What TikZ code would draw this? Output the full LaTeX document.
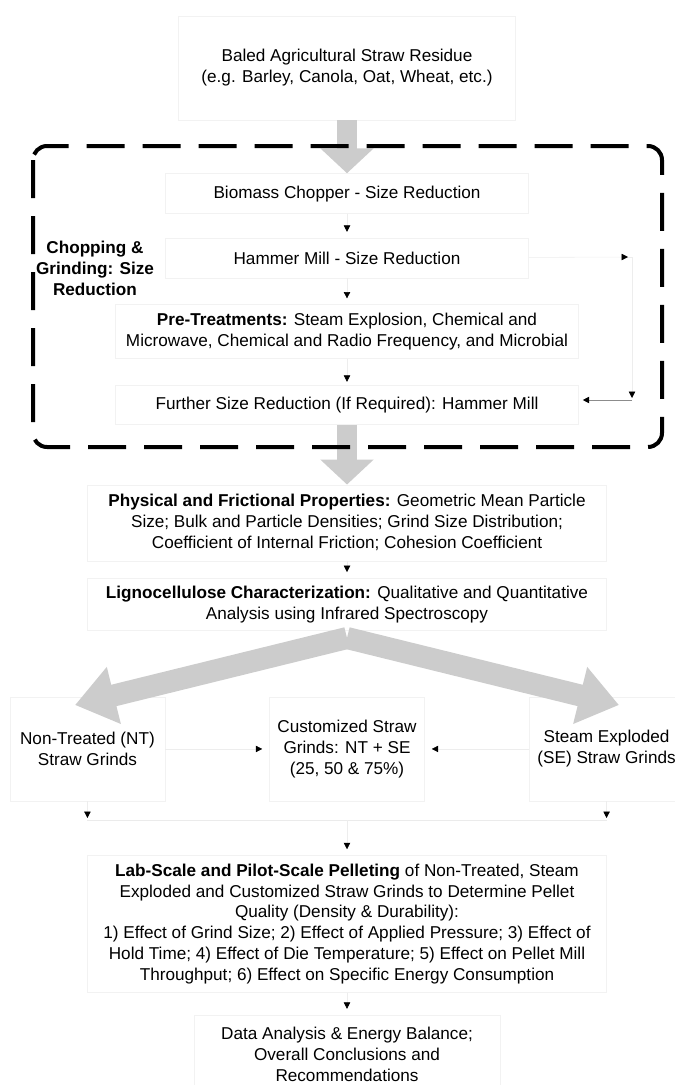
\documentclass[tikz,border=0pt]{standalone}
\usepackage{fontspec}
\setmainfont{Liberation Sans}
\usepackage{tikz}
\usetikzlibrary{arrows.meta,positioning,calc}
\tikzset{
  stagebox/.style={draw=black!5, align=center, inner sep=0pt, font=\fontsize{12.2}{14.9}\selectfont},
  sidelabel/.style={align=center, inner sep=0pt, font=\fontsize{12.2}{14.9}\selectfont\bfseries},
  bigarrow/.style={draw=black!20, line width=5mm, -{Triangle[width=13mm,length=6.25mm]}},
  forkarrow/.style={draw=black!20, line width=5.5mm, -{Triangle[width=14mm,length=10mm]}},
  thinarrow/.style={draw=black!7, line width=0.4pt, -{Triangle[length=1.6mm,width=1.6mm,color=black]}, shorten >=1.5mm},
  returnarrow/.style={draw=black!45, line width=0.5pt, -{Triangle[length=1.6mm,width=1.6mm,color=black]}, shorten >=1mm},
  thinline/.style={draw=black!8, line width=0.4pt},
  groupframe/.style={draw=black, line width=1mm, dash pattern=on 9.5mm off 4.5mm, rounded corners=3.5mm}
}

\begin{document}
\begin{tikzpicture}[x=0.25mm, y=-0.25mm]
\useasboundingbox (0,0) rectangle (674,1085);
\node[stagebox, minimum width=84.25mm, minimum height=26mm] (straw) at (347,68) {Baled Agricultural Straw Residue\\(e.g. Barley, Canola, Oat, Wheat, etc.)};
\node[stagebox, below=13.25mm of straw, minimum width=90.75mm, minimum height=10mm] (chopper) {Biomass Chopper - Size Reduction};
\node[stagebox, below=6mm of chopper, minimum width=90.75mm, minimum height=10mm] (hammer) {Hammer Mill - Size Reduction};
\node[stagebox, below=6.5mm of hammer, minimum width=115.75mm, minimum height=13.5mm] (pretreat) {\textbf{Pre-Treatments:} Steam Explosion, Chemical and\\Microwave, Chemical and Radio Frequency, and Microbial};
\node[stagebox, below=6.5mm of pretreat, minimum width=115.75mm, minimum height=9.75mm] (further) {Further Size Reduction (If Required): Hammer Mill};
\node[sidelabel] (grouplabel) at (95,268) {Chopping \&\\Grinding: Size\\Reduction};
\node[stagebox, below=15mm of further, minimum width=129.75mm, minimum height=19mm] (physical) {\textbf{Physical and Frictional Properties:} Geometric Mean Particle\\Size; Bulk and Particle Densities; Grind Size Distribution;\\Coefficient of Internal Friction; Cohesion Coefficient};
\node[stagebox, below=4.25mm of physical, minimum width=129.75mm, minimum height=13mm] (ligno) {\textbf{Lignocellulose Characterization:} Qualitative and Quantitative\\Analysis using Infrared Spectroscopy};
\node[stagebox, below=16.5mm of ligno, minimum width=38.75mm, minimum height=26mm] (custom) {Customized Straw\\Grinds: NT + SE\\(25, 50 \& 75\%)};
\node[stagebox, left=26mm of custom, minimum width=38.75mm, minimum height=26mm] (nontreated) {Non-Treated (NT)\\Straw Grinds};
\node[stagebox, right=26mm of custom, minimum width=38.75mm, minimum height=26mm] (exploded) {Steam Exploded\\(SE) Straw Grinds};
\node[stagebox, below=13.5mm of custom, minimum width=129.75mm, minimum height=34.25mm] (pellet) {\textbf{Lab-Scale and Pilot-Scale Pelleting} of Non-Treated, Steam\\Exploded and Customized Straw Grinds to Determine Pellet\\Quality (Density \& Durability):\\1) Effect of Grind Size; 2) Effect of Applied Pressure; 3) Effect of\\Hold Time; 4) Effect of Die Temperature; 5) Effect on Pellet Mill\\Throughput; 6) Effect on Specific Energy Consumption};
\node[stagebox, below=5.5mm of pellet, minimum width=76.5mm, minimum height=19.5mm] (results) {Data Analysis \& Energy Balance;\\Overall Conclusions and\\Recommendations};
\coordinate (hammerout) at (628,257);
\coordinate (loopturn) at (632,400);
\coordinate (fork) at (347,638);
\coordinate (forkleft) at (75,705);
\coordinate (forkright) at (619,705);
\coordinate (merge) at (347,820);
\draw[bigarrow] (straw) -- (chopper);
\draw[thinarrow] (chopper) -- (hammer);
\draw[thinarrow] (hammer) -- (pretreat);
\draw[thinarrow, shorten >=0.8mm] (pretreat) -- (further);
\draw[thinarrow, shorten >=0pt] (hammer) -- (hammerout);
\draw[thinarrow, shorten >=0.5mm] (hammerout) -| (loopturn);
\draw[returnarrow] (loopturn) -- (loopturn -| further.east);
\draw[bigarrow] (further) -- (physical);
\draw[thinarrow] (physical) -- (ligno);
\draw[forkarrow] (fork) -- (forkleft);
\draw[forkarrow] (fork) -- (forkright);
\draw[thinarrow, shorten >=1.75mm] (nontreated) -- (custom);
\draw[thinarrow, shorten >=1.75mm] (exploded) -- (custom);
\draw[thinarrow, shorten >=0.5mm] (nontreated) -- (nontreated |- merge);
\draw[thinarrow, shorten >=0.5mm] (exploded) -- (exploded |- merge);
\draw[thinline] (nontreated |- merge) -- (exploded |- merge);
\draw[thinarrow] (merge) -- (pellet);
\draw[thinarrow] (pellet) -- (results);
\draw[groupframe] (33,146) rectangle (662,447);
\end{tikzpicture}
\end{document}
